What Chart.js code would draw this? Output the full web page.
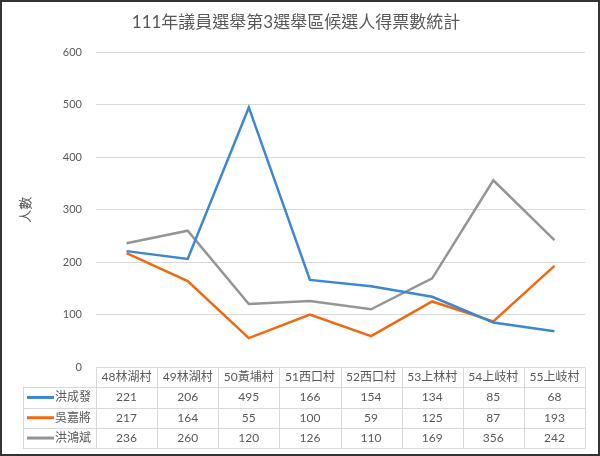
<!DOCTYPE html>
<html lang="zh-Hant">
<head>
  <meta charset="UTF-8" />
  <title>111年議員選舉第3選舉區候選人得票數統計</title>
  <script src="https://cdn.jsdelivr.net/npm/chart.js"></script>
  <style>
    body { margin: 0; background: #fff; }
    canvas { display: block; }
  </style>
</head>
<body>
  <canvas id="voteChart" width="600" height="456"></canvas>

  <script>
    // data
    const categories = ['48林湖村', '49林湖村', '50黃埔村', '51西口村', '52西口村', '53上林村', '54上岐村', '55上岐村'];
    const seriesNames = ['洪成發', '吳嘉將', '洪鴻斌'];
    const hongChengFa = [221, 206, 495, 166, 154, 134, 85, 68];
    const wuJiaJiang = [217, 164, 55, 100, 59, 125, 87, 193];
    const hongHongBin = [236, 260, 120, 126, 110, 169, 356, 242];
    const yTicks = [0, 100, 200, 300, 400, 500, 600];

    const colors = ['#3D87D1', '#F0690F', '#959595'];
    const textColor = '#595959';
    const gridColor = '#d9d9d9';
    const fontFamily = "Lato, 'Noto Sans CJK TC', sans-serif";

    Chart.defaults.font.family = fontFamily;
    Chart.defaults.color = textColor;

    // draws the data table under the plot, plus the outer frame
    const dataTable = {
      id: 'dataTable',
      afterDraw(chart) {
        const { ctx, chartArea: a } = chart;
        const values = chart.data.datasets.map(d => d.data);
        const n = categories.length;
        const colW = a.width / n;
        const rowH = 20.3;
        const top = a.bottom;
        const legLeft = 23;
        const bottom = top + rowH * (values.length + 1);
        const px = v => Math.round(v) + 0.5;

        ctx.save();
        ctx.strokeStyle = gridColor;
        ctx.lineWidth = 1;
        ctx.beginPath();
        ctx.moveTo(a.left, px(top));
        ctx.lineTo(a.right, px(top));
        for (let r = 1; r <= values.length + 1; r++) {
          const y = px(top + r * rowH);
          ctx.moveTo(legLeft, y);
          ctx.lineTo(a.right, y);
        }
        ctx.moveTo(px(legLeft), px(top + rowH));
        ctx.lineTo(px(legLeft), px(bottom));
        for (let i = 0; i <= n; i++) {
          const x = px(a.left + i * colW);
          ctx.moveTo(x, px(top));
          ctx.lineTo(x, px(bottom));
        }
        ctx.stroke();

        ctx.fillStyle = textColor;
        ctx.font = `12px ${fontFamily}`;
        ctx.textAlign = 'center';
        ctx.textBaseline = 'middle';
        const xScale = chart.scales.x;
        categories.forEach((c, i) => {
          ctx.fillText(c, xScale.getPixelForValue(i), top + rowH / 2);
        });

        values.forEach((row, r) => {
          const cy = top + rowH * (r + 1.5);
          row.forEach((v, i) => {
            ctx.fillText(String(v), xScale.getPixelForValue(i), cy);
          });
          // legend key
          ctx.strokeStyle = chart.data.datasets[r].borderColor;
          ctx.lineWidth = 3;
          ctx.beginPath();
          ctx.moveTo(27, cy);
          ctx.lineTo(54, cy);
          ctx.stroke();
          ctx.textAlign = 'left';
          ctx.fillText(chart.data.datasets[r].label, 55, cy);
          ctx.textAlign = 'center';
        });

        // outer frame
        ctx.strokeStyle = '#333';
        ctx.lineWidth = 2;
        ctx.strokeRect(1, 1, chart.width - 2, chart.height - 2);
        ctx.restore();
      }
    };

    new Chart(document.getElementById('voteChart'), {
      type: 'line',
      data: {
        labels: categories,
        datasets: [hongChengFa, wuJiaJiang, hongHongBin].map((d, i) => ({
          label: seriesNames[i],
          data: d,
          borderColor: colors[i],
          backgroundColor: colors[i],
          borderWidth: 2.5,
          pointRadius: 0,
          tension: 0,
          fill: false
        }))
      },
      options: {
        responsive: false,
        devicePixelRatio: 1,
        animation: false,
        layout: { padding: { left: 7, right: 15, top: 0, bottom: 89 } },
        plugins: {
          legend: { display: false },
          tooltip: { enabled: false },
          title: {
            display: true,
            text: '111年議員選舉第3選舉區候選人得票數統計',
            color: textColor,
            font: { size: 17, weight: 'normal', lineHeight: 1.2 },
            padding: { top: 12, bottom: 20 }
          }
        },
        scales: {
          x: {
            display: false,
            offset: true
          },
          y: {
            min: 0,
            max: 600,
            afterFit(scale) { scale.width = 89; },
            afterBuildTicks(scale) { scale.ticks = yTicks.map(v => ({ value: v })); },
            ticks: { color: textColor, font: { size: 11 }, padding: 14 },
            grid: { color: gridColor, lineWidth: 1, drawTicks: false },
            border: { display: false },
            title: {
              display: true,
              text: '人數',
              color: textColor,
              font: { size: 13, weight: 'normal', lineHeight: 1.2 },
              padding: { top: 11, bottom: 0 }
            }
          }
        }
      },
      plugins: [dataTable]
    });
  </script>
</body>
</html>
